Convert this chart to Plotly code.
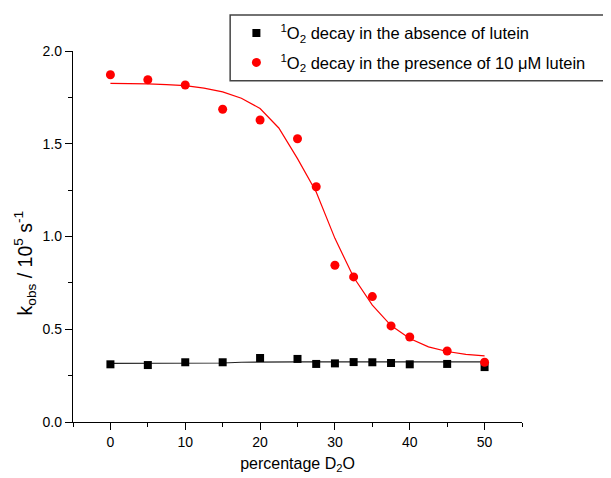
import plotly.graph_objects as go

# Data
x_pts = [0, 5, 10, 15, 20, 25, 27.5, 30, 32.5, 35, 37.5, 40, 45, 50]
k_absent = [0.311, 0.307, 0.322, 0.322, 0.345, 0.340, 0.313, 0.316, 0.323, 0.322, 0.318, 0.311, 0.313, 0.296]
k_lutein = [1.872, 1.845, 1.817, 1.686, 1.628, 1.527, 1.268, 0.845, 0.782, 0.676, 0.518, 0.458, 0.383, 0.322]

x_fit = [0, 2.5, 5, 7.5, 10, 12.5, 15, 17.5, 20, 22.5, 25, 27.5, 30, 32.5, 35, 37.5, 40, 42.5, 45, 47.5, 50]
fit_lutein = [1.826, 1.825, 1.823, 1.819, 1.813, 1.800, 1.780, 1.745, 1.690, 1.585, 1.420, 1.240, 0.990,
              0.780, 0.630, 0.520, 0.450, 0.405, 0.380, 0.365, 0.356]
fit_absent = [0.316, 0.316, 0.316, 0.316, 0.317, 0.317, 0.318, 0.322, 0.324, 0.324, 0.324, 0.324, 0.324,
              0.324, 0.324, 0.324, 0.324, 0.324, 0.324, 0.324, 0.324]

name_absent = "<sup>1</sup>O<sub>2</sub> decay in the absence of lutein"
name_lutein = "<sup>1</sup>O<sub>2</sub> decay in the presence of 10 \u03bcM lutein"
x_title = "percentage D<sub>2</sub>O"
y_title = "k<sub>obs</sub> / 10<sup>5</sup> s<sup>-1</sup>"

FONT = "Liberation Sans, Arial, sans-serif"

fig = go.Figure()
fig.add_trace(go.Scatter(x=x_fit, y=fit_absent, mode="lines", line=dict(color="#222222", width=1.2),
                         showlegend=False, hoverinfo="skip"))
fig.add_trace(go.Scatter(x=x_fit, y=fit_lutein, mode="lines", line=dict(color="red", width=1.2),
                         showlegend=False, hoverinfo="skip"))
fig.add_trace(go.Scatter(x=x_pts, y=k_absent, mode="markers", name=name_absent, legendgroup="a",
                         marker=dict(symbol="square", size=8, color="black"), cliponaxis=False))
fig.add_trace(go.Scatter(x=x_pts, y=k_lutein, mode="markers", name=name_lutein, legendgroup="b",
                         marker=dict(symbol="circle", size=9, color="red"), cliponaxis=False))

# legend frame (extends beyond the right edge, as in the reference)
fig.add_shape(type="rect", xref="paper", yref="paper", x0=0.350, x1=1.25, y0=0.920, y1=1.097,
              line=dict(color="#444444", width=1.5), fillcolor="rgba(0,0,0,0)")

# y-axis title (placed slightly below the axis centre, as in the reference)
fig.add_annotation(text=y_title, xref="paper", yref="paper", x=-0.107, y=0.43, textangle=-90,
                   showarrow=False, xanchor="center", yanchor="middle",
                   font=dict(family=FONT, size=19.5, color="black"))

fig.update_layout(
    width=603, height=470,
    margin=dict(l=65, r=89, t=43, b=56, autoexpand=False),
    paper_bgcolor="white", plot_bgcolor="white",
    font=dict(family=FONT, size=14, color="black"),
    showlegend=True,
    legend=dict(x=0.355, y=1.095, xanchor="left", yanchor="top", bgcolor="rgba(0,0,0,0)",
                borderwidth=0, font=dict(family=FONT, size=16.5, color="black"),
                traceorder="grouped", tracegroupgap=5, itemwidth=38),
    xaxis=dict(range=[-5, 55], showline=True, linecolor="black", linewidth=1.3, mirror=False,
               showgrid=False, zeroline=False, ticks="outside", ticklen=7, tickwidth=1.3,
               tickcolor="black", tick0=0, dtick=10,
               minor=dict(ticks="outside", ticklen=4, tickwidth=1.3, tickcolor="black", tick0=-5, dtick=10,
                          showgrid=False),
               tickfont=dict(family=FONT, size=14),
               title=dict(text=x_title, font=dict(family=FONT, size=16), standoff=8)),
    yaxis=dict(range=[0, 2.0], showline=True, linecolor="black", linewidth=1.3, mirror=False,
               showgrid=False, zeroline=False, ticks="outside", ticklen=7, tickwidth=1.3,
               tickcolor="black", tick0=0, dtick=0.5, tickformat=".1f",
               minor=dict(ticks="outside", ticklen=4, tickwidth=1.3, tickcolor="black", tick0=0.25, dtick=0.5,
                          showgrid=False),
               tickfont=dict(family=FONT, size=14)),
)

fig.write_html("out.html")
